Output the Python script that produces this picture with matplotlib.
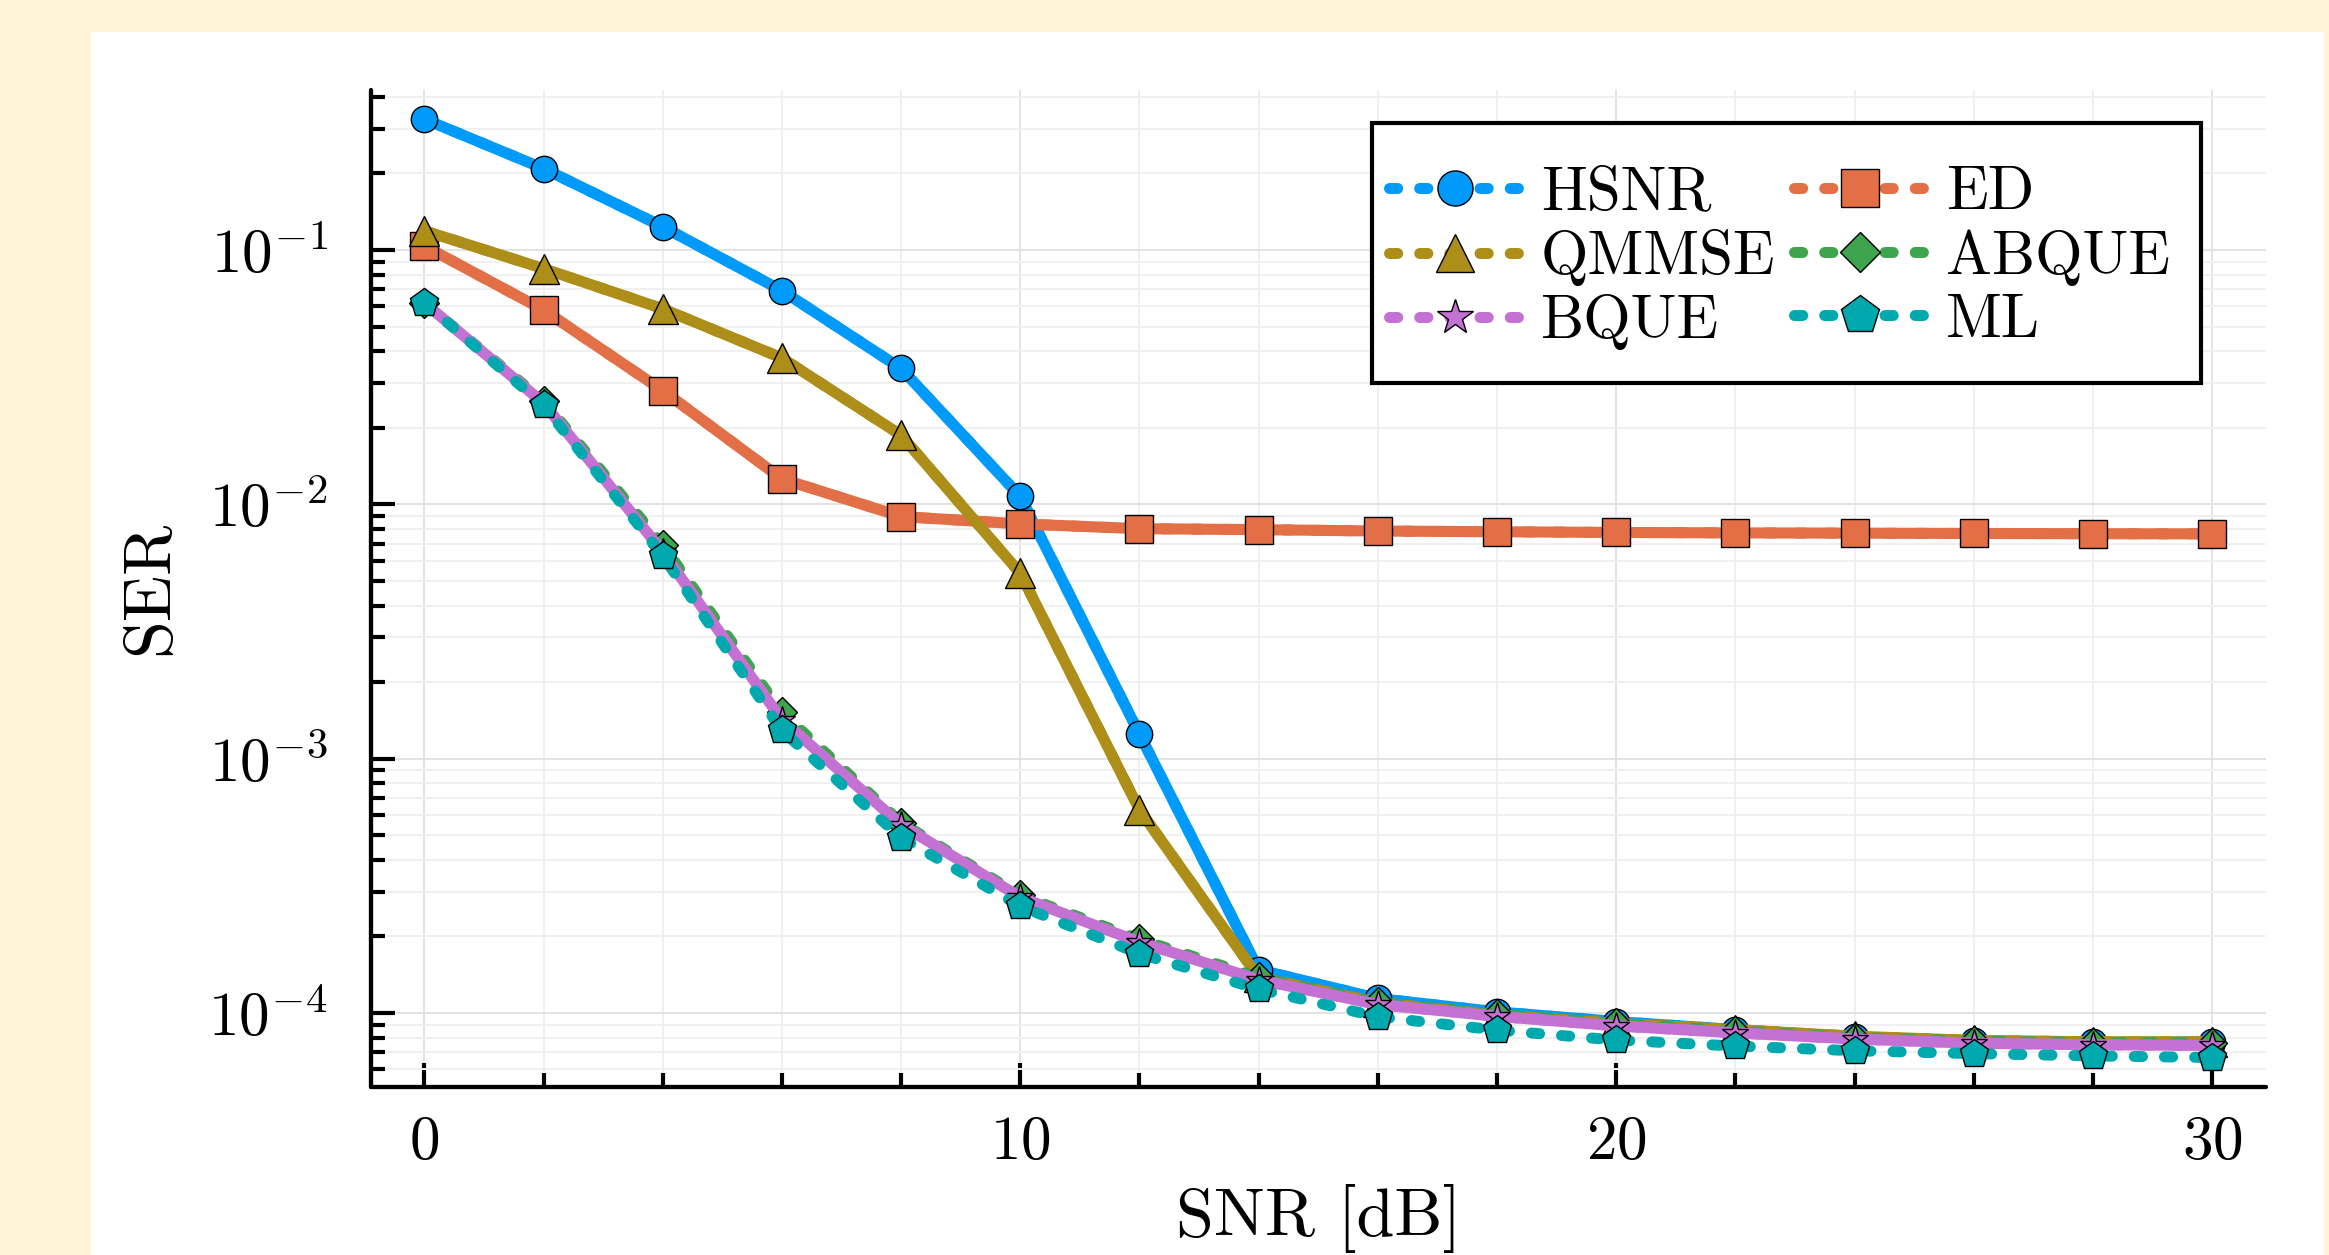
import matplotlib
matplotlib.use('Agg')
import matplotlib.pyplot as plt
from matplotlib.patches import Rectangle
from matplotlib.ticker import LogLocator, MultipleLocator, NullFormatter

# values
snr_db = [0, 2, 4, 6, 8, 10, 12, 14, 16, 18, 20, 22, 24, 26, 28, 30]

ser_hsnr = [0.327, 0.209, 0.1235, 0.0692, 0.0342, 0.01074, 1.25e-3, 1.48e-4,
            1.14e-4, 1.01e-4, 9.25e-5, 8.6e-5, 8.05e-5, 7.76e-5, 7.66e-5, 7.68e-5]
ser_ed = [0.1037, 0.0581, 0.028, 0.01259, 8.95e-3, 8.37e-3, 8.02e-3, 7.95e-3,
          7.85e-3, 7.8e-3, 7.75e-3, 7.72e-3, 7.7e-3, 7.68e-3, 7.66e-3, 7.65e-3]
ser_qmmse = [0.119, 0.0845, 0.0587, 0.0376, 0.0187, 5.36e-3, 6.3e-4, 1.38e-4,
             1.1e-4, 9.8e-5, 9.1e-5, 8.6e-5, 8.1e-5, 7.8e-5, 7.7e-5, 7.7e-5]
ser_abque = [0.062, 0.0255, 6.93e-3, 1.52e-3, 5.6e-4, 2.9e-4, 1.95e-4, 1.38e-4,
             1.1e-4, 9.9e-5, 9.1e-5, 8.5e-5, 8.0e-5, 7.75e-5, 7.65e-5, 7.65e-5]
ser_bque = [0.062, 0.025, 6.5e-3, 1.42e-3, 5.5e-4, 2.85e-4, 1.9e-4, 1.35e-4,
            1.08e-4, 9.7e-5, 8.9e-5, 8.35e-5, 7.9e-5, 7.6e-5, 7.5e-5, 7.45e-5]
ser_ml = [0.0621, 0.0245, 6.28e-3, 1.29e-3, 4.89e-4, 2.63e-4, 1.71e-4, 1.24e-4,
          9.66e-5, 8.56e-5, 7.82e-5, 7.41e-5, 7.1e-5, 6.92e-5, 6.78e-5, 6.68e-5]

names = ['HSNR', 'ED', 'QMMSE', 'ABQUE', 'BQUE', 'ML']
curves = [ser_hsnr, ser_ed, ser_qmmse, ser_abque, ser_bque, ser_ml]
colors = ['#009AFA', '#E36F47', '#AC8E18', '#3EA44E', '#C371D2', '#00A9AD']
markers = ['o', 's', '^', 'D', '*', 'p']
marker_sizes = [19, 20.5, 21, 15, 20, 21.5]
with_solid = ['HSNR', 'ED', 'QMMSE', 'BQUE']

xticks = [0, 10, 20, 30]
yticks = [1e-4, 1e-3, 1e-2, 1e-1]
ytick_labels = [r'$10^{-4}$', r'$10^{-3}$', r'$10^{-2}$', r'$10^{-1}$']

plt.rcParams['font.family'] = 'cmr10'
plt.rcParams['mathtext.fontset'] = 'cm'
plt.rcParams['axes.unicode_minus'] = False
plt.rcParams['axes.formatter.use_mathtext'] = True

W, H = 2329, 1255
fig = plt.figure(figsize=(W / 100, H / 100), dpi=100, facecolor='#FEF3D6')
fig.patches.append(Rectangle((91 / W, 0), (2324 - 91) / W, (H - 32) / H,
                             transform=fig.transFigure, facecolor='white',
                             edgecolor='none', zorder=-1))

ax = fig.add_axes([370.7 / W, (H - 1086.7) / H, 1895 / W, 996.7 / H])
ax.set_facecolor('none')

handles = {}
z = 3
for name, vals, col, mk, ms in zip(names, curves, colors, markers, marker_sizes):
    if name in with_solid:
        ax.plot(snr_db, vals, color=col, lw=8, solid_capstyle='round',
                solid_joinstyle='round', zorder=z)
        z += 1
    h, = ax.plot(snr_db, vals, color=col, lw=7.9, linestyle=(0, (0.75, 2.0)),
                 dash_capstyle='round', marker=mk, markersize=ms,
                 markerfacecolor=col, markeredgecolor='black',
                 markeredgewidth=1.0, label=name, zorder=z)
    z += 1
    handles[name] = h

ax.set_yscale('log')
ax.set_xlim(-0.9, 30.9)
ax.set_ylim(10 ** -4.29, 10 ** -0.371)

ax.set_xticks(xticks)
ax.xaxis.set_minor_locator(MultipleLocator(2))
ax.set_yticks(yticks, labels=ytick_labels)
ax.yaxis.set_minor_locator(LogLocator(base=10, subs=range(2, 10)))
ax.yaxis.set_minor_formatter(NullFormatter())

for s in ['top', 'right']:
    ax.spines[s].set_visible(False)
for s in ['left', 'bottom']:
    ax.spines[s].set_linewidth(3.1)
    ax.spines[s].set_capstyle('round')

ax.tick_params(which='both', direction='in', width=3.0, color='black')
ax.tick_params(which='major', length=17.6, labelsize=44)
ax.tick_params(which='minor', length=9.8)
ax.tick_params(axis='x', which='major', pad=21)
ax.tick_params(axis='y', which='major', pad=31)

ax.grid(which='major', color='#e3e3e3', lw=1.4, zorder=0)
ax.grid(which='minor', color='#f0f0f0', lw=1.4, zorder=0)
ax.set_axisbelow(True)

ax.set_xlabel('SNR [dB]', fontsize=49)
ax.set_ylabel('SER', fontsize=49)
ax.xaxis.set_label_coords(0.5, -0.098)
ax.yaxis.set_label_coords(-0.100, 0.5)

# legend box drawn separately (Plots-style padding), entries on top of it
box = Rectangle((0.5283, 0.7063), 0.9659 - 0.5283, 0.9666 - 0.7063,
                transform=ax.transAxes, facecolor='white', edgecolor='black',
                lw=3.0, joinstyle='miter', zorder=49, clip_on=False)
ax.add_patch(box)

order = ['HSNR', 'QMMSE', 'BQUE', 'ED', 'ABQUE', 'ML']
leg = ax.legend([handles[n] for n in order], order, ncol=2, fontsize=44,
                loc='upper left', bbox_to_anchor=(0.5371, 0.924),
                borderaxespad=0, borderpad=0, handlelength=2.18,
                handletextpad=0.31, columnspacing=0.3, labelspacing=0.13,
                markerscale=1.33, frameon=False)
leg.set_zorder(50)

fig.savefig('out.png', dpi=100)
